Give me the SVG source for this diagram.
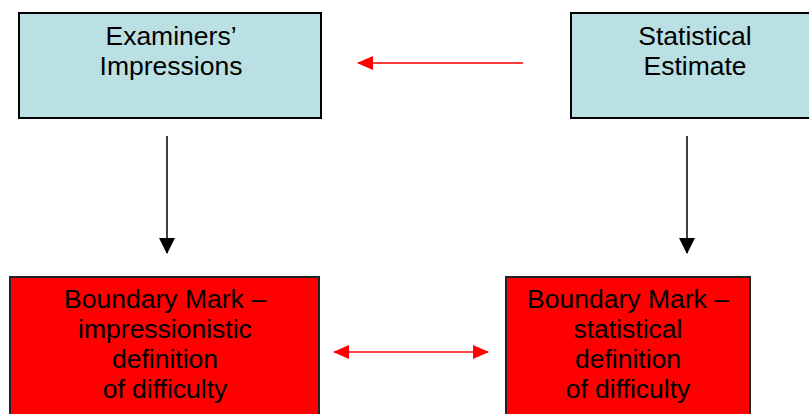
<svg xmlns="http://www.w3.org/2000/svg" width="809" height="414" viewBox="0 0 809 414">
<defs>
<style>
.blue{fill:#BBE0E3;stroke:#000;stroke-width:2}
.red{fill:#FF0000;stroke:#222;stroke-width:2}
text{font-family:"Liberation Sans",Arial,sans-serif;font-size:26.5px;fill:#000;text-anchor:middle}
.rl{stroke:#FF0000;stroke-width:1.6;fill:none}
.bl{stroke:#000;stroke-width:1.5;fill:none}
</style>
<marker id="ra" viewBox="0 0 16 14" refX="15" refY="7" markerWidth="16" markerHeight="14" markerUnits="userSpaceOnUse" orient="auto-start-reverse"><path d="M0,0 L16,7 L0,14 Z" fill="#FF0000"/></marker>
<marker id="ba" viewBox="0 0 16 16" refX="15" refY="8" markerWidth="16" markerHeight="16" markerUnits="userSpaceOnUse" orient="auto"><path d="M0,0 L16,8 L0,16 Z" fill="#000"/></marker>
</defs>
<g id="examiners">
<rect class="blue" x="19" y="13" width="302" height="105"/>
<text x="171" y="45">Examiners’</text>
<text x="171" y="75">Impressions</text>
</g>
<g id="statistical">
<rect class="blue" x="571" y="13" width="250" height="105"/>
<text x="695" y="45">Statistical</text>
<text x="695" y="75">Estimate</text>
</g>
<g id="bm-impressionistic">
<rect class="red" x="10" y="277" width="309" height="150"/>
<text x="165" y="308">Boundary Mark –</text>
<text x="165" y="338">impressionistic</text>
<text x="165" y="368">definition</text>
<text x="165" y="398">of difficulty</text>
</g>
<g id="bm-statistical">
<rect class="red" x="506" y="277" width="244" height="150"/>
<text x="628" y="308">Boundary Mark –</text>
<text x="628" y="338">statistical</text>
<text x="628" y="368">definition</text>
<text x="628" y="398">of difficulty</text>
</g>
<g id="connectors">
<line class="rl" x1="523" y1="63" x2="358" y2="63" marker-end="url(#ra)"/>
<line class="rl" x1="334" y1="352" x2="488" y2="352" marker-start="url(#ra)" marker-end="url(#ra)"/>
<line class="bl" x1="167" y1="136" x2="167" y2="253" marker-end="url(#ba)"/>
<line class="bl" x1="687" y1="136" x2="687" y2="253" marker-end="url(#ba)"/>
</g>
</svg>
